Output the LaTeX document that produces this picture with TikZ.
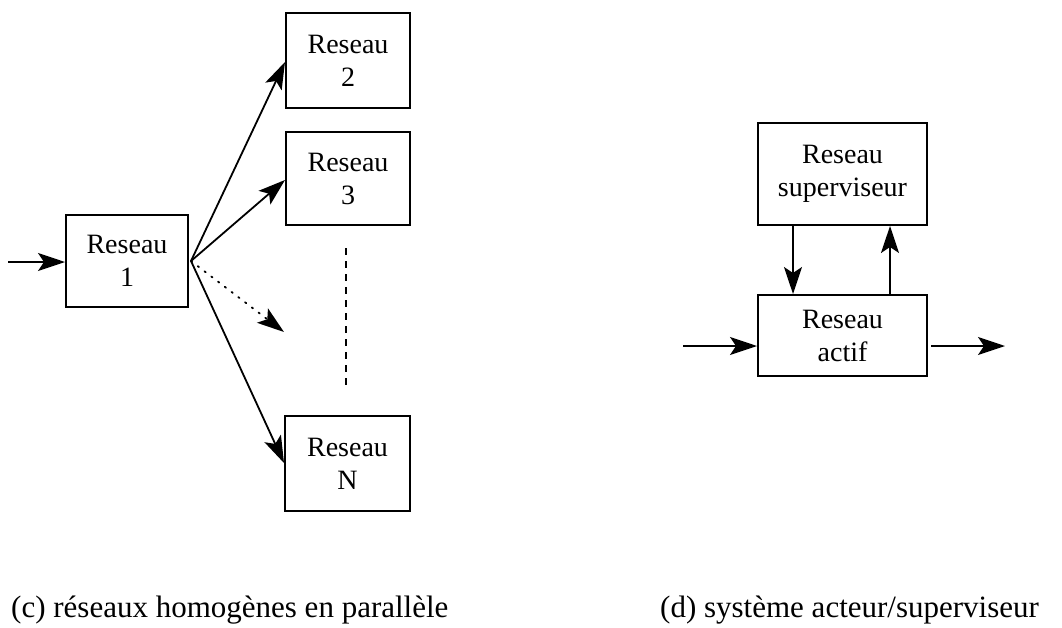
\documentclass[tikz,border=0pt]{standalone}
\usepackage{fontspec}
\setmainfont{Liberation Serif}
\usetikzlibrary{arrows.meta}
\tikzset{
  netbox/.style={draw, line width=2pt, inner sep=0pt, align=center,
    font=\fontsize{28}{33}\selectfont},
  tip/.style={-{Stealth[length=27pt,width=18pt,inset=6pt]}},
  flow/.style={line width=1.8pt, tip},
  caption/.style={anchor=base west, inner sep=0pt, font=\fontsize{31}{36}\selectfont}
}
\begin{document}
\begin{tikzpicture}[x=1pt,y=-1pt]
\useasboundingbox (0,0) rectangle (1062,627);

% (c) parallel homogeneous networks
\node[netbox, minimum width=122pt, minimum height=92pt] (r1) at (127,261) {Reseau\\1};
\node[netbox, minimum width=124pt, minimum height=95pt] (r2) at (348,60.5) {Reseau\\2};
\node[netbox, minimum width=124pt, minimum height=93pt] (r3) at (348,178.5) {Reseau\\3};
\node[netbox, minimum width=125pt, minimum height=95pt] (rN) at (347.5,463.5) {Reseau\\N};

\coordinate (in1) at (8,262);
\coordinate (fan) at (191,261);
\coordinate (more) at (284,332);
\coordinate (dtop) at (346,248);
\coordinate (dbot) at (346,391);

\draw[flow] (in1) -- (r1.west |- in1);
\draw[flow] (fan) -- (r2.west |- 0,62);
\draw[flow] (fan) -- (r3.west |- 0,180);
\draw[flow] (fan) -- (rN.west |- 0,463);
\draw[line width=1.8pt, dash pattern=on 1.5pt off 7pt, line cap=round, tip] (fan) -- (more);
\draw[line width=2pt, dash pattern=on 7pt off 6pt] (dtop) -- (dbot);

% (d) actor / supervisor system
\node[netbox, minimum width=169pt, minimum height=102pt] (sup) at (842.5,174) {Reseau\\superviseur};
\node[netbox, minimum width=169pt, minimum height=81pt] (act) at (842.5,335.5) {Reseau\\actif};

\coordinate (in2) at (683,346);
\coordinate (out2) at (1005,346);

\draw[flow] (sup.south -| 793,0) -- (act.north -| 793,0);
\draw[flow] (act.north -| 890,0) -- (sup.south -| 890,0);
\draw[flow] (in2) -- (act.west |- in2);
\draw[flow] (act.east |- out2) ++(3,0) -- (out2);

% captions
\node[caption] (capc) at (11,617) {(c) réseaux homogènes en parallèle};
\node[caption] (capd) at (660,617) {(d) système acteur/superviseur};
\end{tikzpicture}
\end{document}
